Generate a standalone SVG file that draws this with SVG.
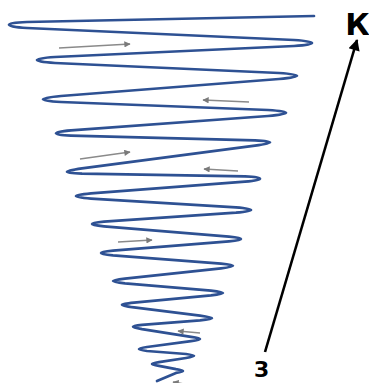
<svg xmlns="http://www.w3.org/2000/svg" width="369" height="383" viewBox="0 0 369 383">
<style>
.coil{fill:none;stroke:#2e5193;stroke-width:2.7;stroke-linejoin:round;stroke-linecap:round}
.flow{fill:none;stroke:#8a8a8a;stroke-width:1.4}
.main{fill:none;stroke:#000;stroke-width:2.6}
.lbl{font-family:"DejaVu Sans",sans-serif;font-weight:bold;fill:#000;text-anchor:middle}
</style>
<defs>
<marker id="gh" viewBox="0 0 10 10" refX="9" refY="5" markerWidth="5" markerHeight="4.5" orient="auto" markerUnits="strokeWidth">
<path d="M0,0 L10,5 L0,10 Z" fill="#7a7a7a"/>
</marker>
<marker id="bh" viewBox="0 0 10 10" refX="9" refY="5" markerWidth="6" markerHeight="4.4" orient="auto" markerUnits="strokeWidth">
<path d="M0,0 L10,5 L0,10 Z" fill="#000"/>
</marker>
</defs>
<g id="spiral">
<path class="coil" d="M314,16 L27,22 C3,22.7 3,26.6 27,28
L294,40 C318,41.4 318,44.5 294,46
L55,57 C31,58.5 31,61.5 55,63
L279,73 C303,74.5 303,76.8 279,79
L61,96 C37,98.2 37,100.6 61,102
L268,110 C292,111.4 292,113.9 268,116
L71,130.3 C51,132 51,134.8 71,135.7
L255,140.3 C275,141.2 275,143 255,145.7
L82,168.3 C62,171.1 62,172.9 82,173.7
L245,176.3 C265,177.1 265,179.9 245,181.7
L91,193.3 C71,195.1 71,197.1 91,198.7
L236,207.3 C256,208.9 256,210.9 236,212.7
L104,221.6 C88,223 88,224.8 104,226.4
L229,236.6 C245,238.2 245,239.8 229,241.4
L113,250.6 C97,252.2 97,253.8 113,255.4
L221,263.6 C237,265.2 237,266.4 221,268.4
L125,278.6 C109,280.6 109,281.6 125,283.4
L211,290.6 C227,292.4 227,293.5 211,295.4
L134,302.6 C118,304.5 118,305.2 134,307.4
L200,315.6 C216,317.8 216,318.6 200,320.4
L142,324.9 C130,326.2 130,326.9 142,329.1
L191,336.9 C203,338.6 203,339.6 191,341.1
L147,347 C136.3,348.7 136.3,349.6 147,351
L186,354 C196.7,355.4 196.7,356.2 186,358
L159,362.1 C149.7,363.6 149.7,364.2 159,365.9
L176,369.1 C185.3,370.4 185.3,371.6 176,372.9
L157,381"/>
</g>
<g id="flow-arrows">
<path class="flow" marker-end="url(#gh)" d="M59,48 L130,44"/>
<path class="flow" marker-end="url(#gh)" d="M249,102 L203,100"/>
<path class="flow" marker-end="url(#gh)" d="M80,159 L130,152"/>
<path class="flow" marker-end="url(#gh)" d="M238,171 L204,169"/>
<path class="flow" marker-end="url(#gh)" d="M118,242 L152,240"/>
<path class="flow" marker-end="url(#gh)" d="M200,333 L178,331"/>
<path class="flow" marker-end="url(#gh)" d="M190,385 L173,382"/>
</g>
<g id="label-K"><text class="lbl" x="357.5" y="35" font-size="30">К</text></g>
<g id="label-Z"><text class="lbl" x="261.5" y="377" font-size="21">З</text></g>
<g id="connectors">
<path class="main" marker-end="url(#bh)" d="M265,352 L357,40"/>
</g>
</svg>
